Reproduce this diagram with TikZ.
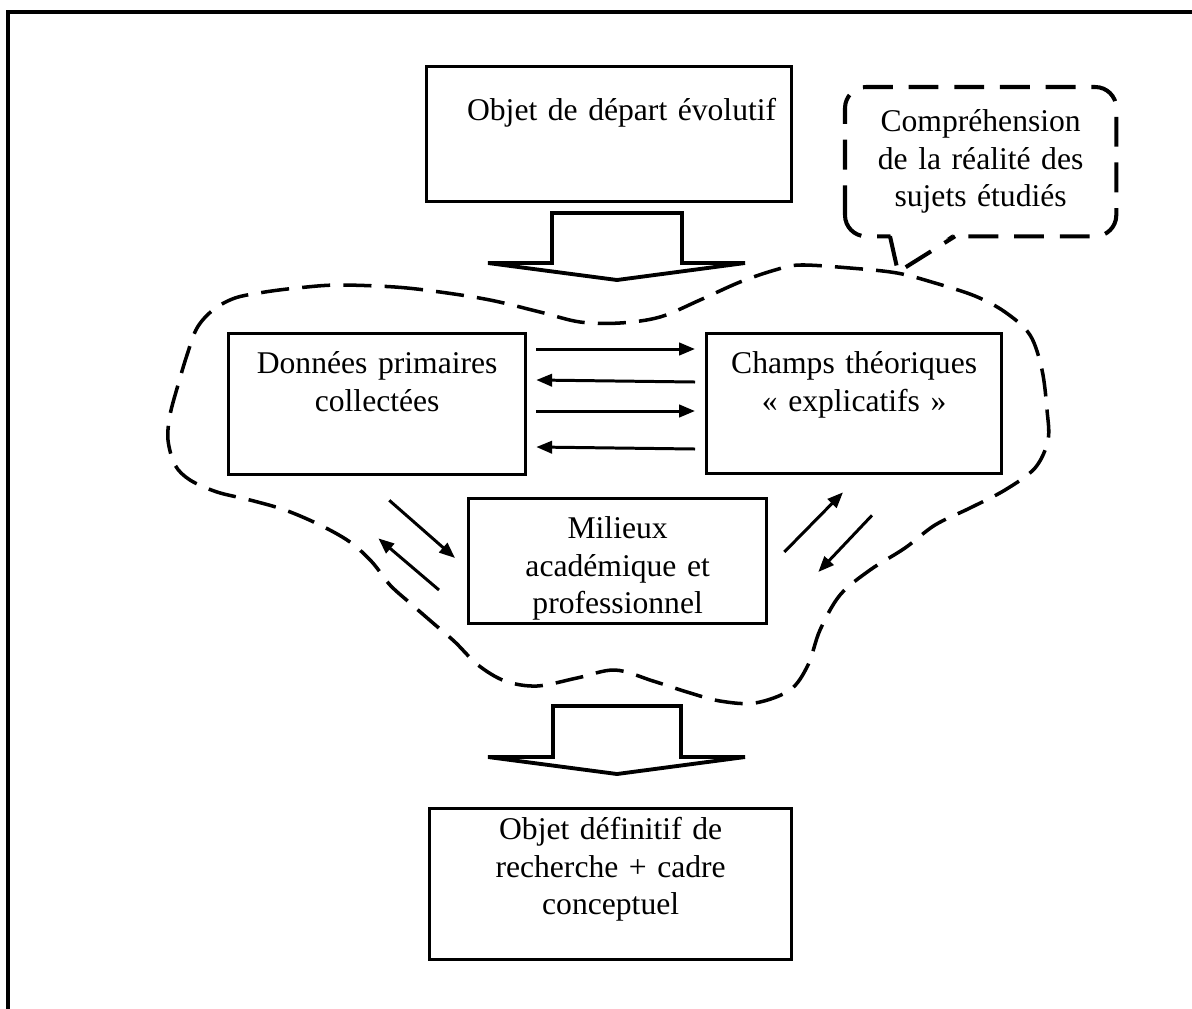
\documentclass[tikz,border=0pt]{standalone}
\usepackage{fontspec}
\setmainfont{Liberation Serif}
\usetikzlibrary{arrows.meta,calc}
\newcommand{\boxfont}{\fontsize{18}{21.3}\selectfont}

\tikzset{
  tbox/.style={draw, line width=1.9pt, inner sep=0pt, align=center, anchor=north west, font=\boxfont},
  bubble/.style={line width=2.3pt, dash pattern=on 17pt off 9pt},
  flow/.style={line width=1.7pt, -{Triangle[length=9pt,width=7pt]}},
  cloudline/.style={line width=2pt, dash pattern=on 16pt off 7.5pt},
  bigarrow/.style={line width=2.2pt, fill=white, line join=miter}
}

\begin{document}
\begin{tikzpicture}[x=0.02cm, y=-0.02cm]
\useasboundingbox (0,0) rectangle (1192,1008);
\clip (0,0) rectangle (1192,1008);
% page frame
\draw[line width=2.3pt] (8,1100) -- (8,12) -- (1300,12);

% boxes
\node[tbox, text width=7.3cm, text height=1.08cm, text depth=1.62cm] (depart) at (425,65) {\hspace*{0.5cm}Objet de départ évolutif};
\node[tbox, text width=5.94cm, text height=0.8cm, text depth=2.02cm] (donnees) at (227,332) {Données primaires\\collectées};
\node[tbox, text width=5.9cm, text height=0.8cm, text depth=2.0cm] (champs) at (705,332) {Champs théoriques\\« explicatifs »};
\node[tbox, text width=5.96cm, text height=0.8cm, text depth=1.7cm] (milieux) at (467,497) {Milieux\\académique et\\professionnel};
\node[tbox, text width=7.24cm, text height=0.62cm, text depth=2.4cm] (final) at (428,807) {Objet définitif de\\recherche + cadre\\conceptuel};

% callout
\node[tbox, draw=none, text width=5.36cm, text height=0.86cm, text depth=2.06cm] (bulle) at (845,87) {Compréhension\\de la réalité des\\sujets étudiés};
\draw[bubble, rounded corners=12pt] (bulle.south west) rectangle (bulle.north east);
\coordinate (tip) at (898,272);
\coordinate (b1) at ($(bulle.south west)+(45,0)$);
\coordinate (b2) at ($(bulle.south west)+(110,0)$);
\fill[white] ($(b1)+(0,-4)$) -- ($(b2)+(0,-4)$) -- (tip) -- cycle;
\draw[bubble] (b1) -- (tip) -- (b2);

% cloud
\draw[cloudline] plot[smooth cycle, tension=0.55] coordinates {
 (337,285) (395,287) (440,292) (490,300) (540,312) (580,322) (620,323) (660,317)
 (700,300) (740,282) (775,270) (800,265) (850,268) (897,273) (935,283) (975,296)
 (1005,312) (1030,335) (1042,370) (1047,410) (1048,440) (1035,468) (1005,490)
 (970,508) (935,525) (905,548) (870,570) (840,595) (820,630) (808,665) (790,690)
 (755,703) (720,701) (687,692) (653,681) (615,670) (577,678) (537,686) (505,681)
 (478,665) (455,642) (433,623) (410,603) (390,585) (372,562) (350,542) (320,525)
 (285,510) (250,500) (217,492) (190,480) (175,465) (168,440) (170,415) (178,385)
 (187,355) (197,328) (213,310) (235,298) (265,292) (297,288)};

% big arrows
\draw[bigarrow] (552,213) -- (682,213) -- (682,263) -- (745,263) -- (617,280) -- (488,263) -- (552,263) -- cycle;
\draw[bigarrow] (553,706) -- (681,706) -- (681,757) -- (745,757) -- (617,774) -- (488,757) -- (553,757) -- cycle;

% exchanges
\draw[flow] ($(donnees.north east)+(9,17)$) -- ($(champs.north west)+(-10,17)$);
\draw[flow] ($(champs.north west)+(-10,50)$) -- ($(donnees.north east)+(9,48)$);
\draw[flow] ($(donnees.north east)+(9,79)$) -- ($(champs.north west)+(-10,79)$);
\draw[flow] ($(champs.north west)+(-10,117)$) -- ($(donnees.north east)+(9,115)$);
\draw[flow] ($(donnees.south east)+(-138,24)$) -- ($(milieux.north west)+(-12,61)$);
\draw[flow] ($(milieux.north west)+(-28,93)$) -- ($(donnees.south east)+(-149,62)$);
\draw[flow] ($(milieux.north east)+(16,55)$) -- ($(champs.south west)+(138,17)$);
\draw[flow] ($(champs.south west)+(167,40)$) -- ($(milieux.north east)+(50,75)$);
\end{tikzpicture}
\end{document}
